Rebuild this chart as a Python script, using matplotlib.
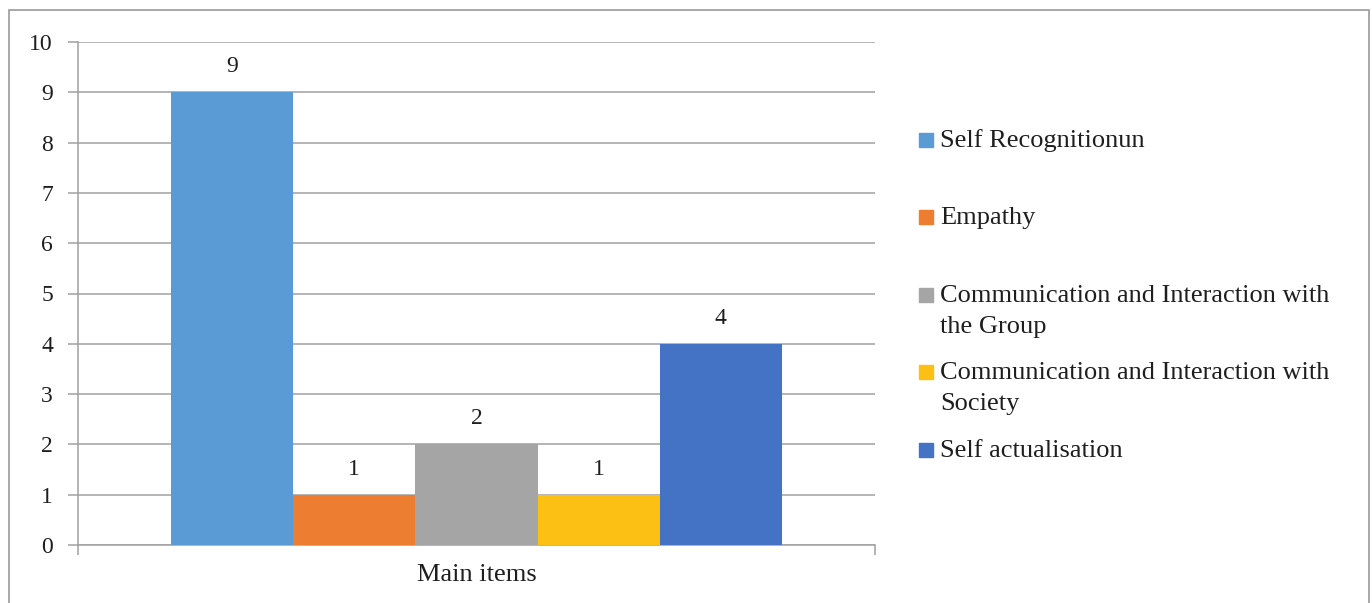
import matplotlib
matplotlib.use("Agg")
import matplotlib.pyplot as plt
from matplotlib.patches import Rectangle

categories = ["Self Recognitionun", "Empathy",
              "Communication and Interaction with\nthe Group",
              "Communication and Interaction with\nSociety",
              "Self actualisation"]
values = [9, 1, 2, 1, 4]
group_label = "Main items"
colors = ["#5B9BD5", "#ED7D31", "#A5A5A5", "#FBC013", "#4472C4"]
yticks = list(range(0, 11))

plt.rcParams['font.family'] = ['Liberation Serif', 'DejaVu Serif']

W, H = 1372, 603
fig = plt.figure(figsize=(W / 100, H / 100), dpi=100)

def fx(px):
    return px / W

def fy(py):
    return 1 - py / H

ax = fig.add_axes([fx(78), fy(545), fx(875) - fx(78), fy(42) - fy(545)])

grey = "#A0A0A0"
txt = "#1E1E1E"
group_w = 611 / 797
bw = group_w / len(values)
n = len(values)
for i, (v, c) in enumerate(zip(values, colors)):
    x = (i - (n - 1) / 2) * bw
    ax.bar(x, v, width=bw, color=c, zorder=3)
    ax.text(x, v + 0.3, str(v), ha='center', va='bottom', fontsize=17, color=txt)

ax.set_xlim(-0.5, 0.5)
ax.set_ylim(0, 10)
ax.set_yticks(yticks)
ax.set_yticklabels([str(t) for t in yticks])
ax.yaxis.grid(True, color=grey, linewidth=1.1, zorder=0)
ax.set_axisbelow(True)
ax.set_xticks([0])
ax.set_xticklabels([group_label])
ax.set_xticks([-0.5, 0.5], minor=True)
ax.tick_params(axis='x', which='major', length=0, pad=14, labelsize=19, labelcolor=txt)
ax.tick_params(axis='x', which='minor', length=7, width=1.1, color=grey, direction='out')
ax.tick_params(axis='y', length=7, width=1.1, color=grey, pad=11, labelsize=17, labelcolor=txt)
for s in ['top', 'right']:
    ax.spines[s].set_visible(False)
for s in ['left', 'bottom']:
    ax.spines[s].set_color(grey)
    ax.spines[s].set_linewidth(1.1)
ax.set_facecolor('none')

# legend (manual layout, markers aligned with first text line)
leg_y = [140, 217, 295, 372, 450]
line_gap = 31
for lab, c, yy in zip(categories, colors, leg_y):
    fig.patches.append(Rectangle((fx(919), fy(yy + 7)), fx(14), 14 / H,
                                 transform=fig.transFigure, color=c))
    for k, line in enumerate(lab.split("\n")):
        fig.text(fx(940), fy(yy + 7 + k * line_gap), line, ha='left',
                 va='baseline', fontsize=19, color=txt,
                 transform=fig.transFigure)

# outer border
fig.patches.append(Rectangle((fx(9), -0.05), fx(1369) - fx(9), fy(10) + 0.05,
                             transform=fig.transFigure, fill=False,
                             edgecolor='#9A9A9A', linewidth=1.2))

fig.savefig("out.png", dpi=100)
